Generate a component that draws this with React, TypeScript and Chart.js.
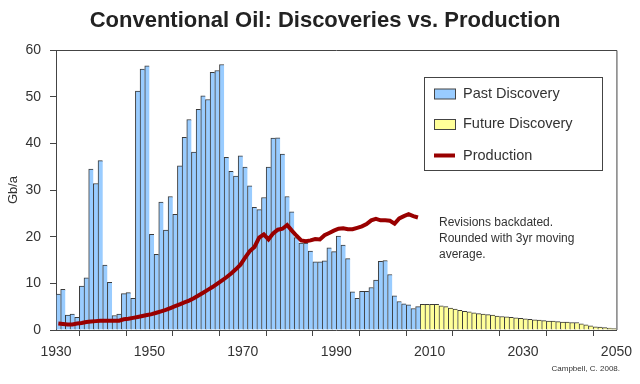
import { useEffect, useRef } from "react";
import { Chart, registerables } from "chart.js";

Chart.register(...registerables);

const TITLE = "Conventional Oil: Discoveries vs. Production";
const Y_TITLE = "Gb/a";
const CREDIT = "Campbell, C. 2008.";
const NOTE_LINES = ["Revisions backdated.", "Rounded with 3yr moving", "average."];
const LEGEND_LABELS = ["Past Discovery", "Future Discovery", "Production"];

const PAST_START = 1930;
const FUTURE_START = 2008;
const X_MIN = 1930;
const X_MAX = 2050;
const Y_MAX = 60;

// Past discovery, Gb/a, 1930..2007
const pastDiscovery = [
  7.7, 8.7, 3.2, 3.4, 2.7, 9.4, 11.2, 34.5, 31.4, 36.3,
  13.9, 10.2, 3.1, 3.4, 7.8, 8.0, 6.8, 51.2, 55.9, 56.6,
  20.5, 16.2, 27.4, 21.4, 28.6, 24.8, 35.2, 41.3, 45.1, 38.1,
  47.3, 50.2, 49.4, 55.2, 55.6, 56.9, 37.0, 34.0, 33.0, 37.3,
  34.9, 30.9, 26.3, 25.8, 28.4, 34.9, 41.1, 41.2, 37.7, 28.6,
  25.3, 19.8, 18.6, 18.6, 16.9, 14.6, 14.6, 14.8, 17.6, 16.8,
  20.1, 18.2, 15.3, 8.2, 6.8, 8.3, 8.3, 9.1, 10.7, 14.7,
  14.9, 11.9, 7.3, 6.1, 5.6, 5.4, 4.6, 5.0,
];

// Future discovery, Gb/a, 2008..2049
const futureDiscovery = [
  5.5, 5.5, 5.5, 5.5, 5.2, 5.0, 4.7, 4.5, 4.2, 4.0,
  3.9, 3.7, 3.5, 3.4, 3.3, 3.2, 3.0, 2.9, 2.8, 2.7,
  2.6, 2.5, 2.4, 2.3, 2.2, 2.1, 2.0, 1.9, 1.9, 1.8,
  1.7, 1.7, 1.6, 1.6, 1.3, 1.1, 0.9, 0.7, 0.6, 0.5,
  0.4, 0.3,
];

// Production, Gb/a, 1930..2007
const production = [
  1.4, 1.3, 1.2, 1.2, 1.4, 1.5, 1.7, 1.8, 1.9, 2.0,
  2.0, 2.0, 2.0, 2.0, 2.3, 2.4, 2.6, 2.8, 3.0, 3.2,
  3.4, 3.7, 4.0, 4.3, 4.7, 5.1, 5.5, 5.9, 6.3, 6.8,
  7.4, 8.0, 8.6, 9.2, 9.9, 10.6, 11.3, 12.1, 13.0, 14.0,
  15.5, 16.9, 17.8, 19.8, 20.5, 19.4, 20.7, 21.5, 21.7, 22.5,
  21.3, 20.2, 19.2, 19.0, 19.2, 19.5, 19.4, 20.3, 20.8, 21.3,
  21.7, 21.8, 21.6, 21.6, 21.9, 22.2, 22.7, 23.5, 23.8, 23.5,
  23.5, 23.4, 22.8, 23.9, 24.4, 24.8, 24.4, 24.1,
];

const BLUE = "#99CCFF";
const YELLOW = "#FFFF99";
const RED = "#990000";
const EDGE = "#3a3a3a";
const AXIS = "#444444";
const TEXT = "#333333";
const FONT = "'Liberation Sans', Arial, sans-serif";

const toPoints = (start: number, values: number[]) =>
  values.map((v, i) => ({ x: start + i + 0.5, y: v }));

const overlay = {
  id: "overlay",
  afterDraw(chart: any) {
    const { ctx, chartArea } = chart;
    const { left, right, top, bottom } = chartArea;
    ctx.save();
    // frame top/right
    ctx.strokeStyle = AXIS;
    ctx.lineWidth = 1;
    ctx.beginPath();
    ctx.moveTo(left, top + 0.5);
    ctx.lineTo(right + 0.5, top + 0.5);
    ctx.lineTo(right + 0.5, bottom);
    ctx.stroke();

    // title
    ctx.fillStyle = "#222";
    ctx.font = `bold 22px ${FONT}`;
    ctx.textAlign = "center";
    ctx.textBaseline = "middle";
    ctx.fillText(TITLE, 325, 21);

    // y title
    ctx.save();
    ctx.translate(13, 190);
    ctx.rotate(-Math.PI / 2);
    ctx.font = `13px ${FONT}`;
    ctx.fillStyle = TEXT;
    ctx.fillText(Y_TITLE, 0, 0);
    ctx.restore();

    // legend
    ctx.fillStyle = "#fff";
    ctx.fillRect(424.5, 77.5, 178, 93);
    ctx.strokeStyle = AXIS;
    ctx.strokeRect(424.5, 77.5, 178, 93);
    const rows = [93.5, 124, 155.5];
    const swatches = [BLUE, YELLOW];
    swatches.forEach((c, i) => {
      ctx.fillStyle = c;
      ctx.fillRect(434.5, rows[i] - 4.5, 21, 10);
      ctx.strokeStyle = AXIS;
      ctx.strokeRect(434.5, rows[i] - 4.5, 21, 10);
    });
    ctx.strokeStyle = RED;
    ctx.lineWidth = 4;
    ctx.beginPath();
    ctx.moveTo(434, rows[2]);
    ctx.lineTo(455, rows[2]);
    ctx.stroke();
    ctx.fillStyle = TEXT;
    ctx.font = `14.5px ${FONT}`;
    ctx.textAlign = "left";
    LEGEND_LABELS.forEach((t, i) => ctx.fillText(t, 463, rows[i]));

    // note
    ctx.font = `12px ${FONT}`;
    NOTE_LINES.forEach((t, i) => ctx.fillText(t, 439, 222.5 + i * 16.3));

    // credit
    ctx.font = `8px ${FONT}`;
    ctx.textAlign = "right";
    ctx.fillText(CREDIT, 620, 369);
    ctx.restore();
  },
};

export default function App() {
  const ref = useRef<HTMLCanvasElement>(null);
  useEffect(() => {
    document.body.style.margin = "0";
    const chart = new Chart(ref.current!, {
      type: "bar",
      data: {
        datasets: [
          {
            type: "line",
            label: LEGEND_LABELS[2],
            data: toPoints(PAST_START, production),
            borderColor: RED,
            borderWidth: 4,
            pointRadius: 0,
            tension: 0,
            order: 0,
          } as any,
          {
            label: LEGEND_LABELS[0],
            data: toPoints(PAST_START, pastDiscovery),
            backgroundColor: BLUE,
            borderColor: EDGE,
            borderWidth: { left: 1, top: 1, right: 0, bottom: 0 },
            borderSkipped: false,
            barPercentage: 1,
            categoryPercentage: 1,
            grouped: false,
            order: 1,
          },
          {
            label: LEGEND_LABELS[1],
            data: toPoints(FUTURE_START, futureDiscovery),
            backgroundColor: YELLOW,
            borderColor: EDGE,
            borderWidth: { left: 1, top: 1, right: 0, bottom: 0 },
            borderSkipped: false,
            barPercentage: 1,
            categoryPercentage: 1,
            grouped: false,
            order: 1,
          },
        ],
      },
      options: {
        animation: false,
        responsive: false,
        layout: { padding: { left: 0, right: 22, top: 50, bottom: 24 } },
        plugins: { legend: { display: false }, tooltip: { enabled: false }, title: { display: false } },
        scales: {
          x: {
            type: "linear",
            min: X_MIN,
            max: X_MAX,
            offset: false,
            afterFit: (s: any) => { s.height = 30; },
            ticks: {
              stepSize: 10,
              autoSkip: false,
              maxRotation: 0,
              padding: 8,
              color: TEXT,
              font: { family: FONT, size: 14 },
              callback: (v: any) => ((Number(v) - X_MIN) % 20 === 0 ? String(v) : ""),
            },
            grid: { drawOnChartArea: false, drawTicks: true, tickLength: 6, color: AXIS },
            border: { color: AXIS },
          },
          y: {
            min: 0,
            max: Y_MAX,
            afterFit: (s: any) => { s.width = 56; },
            ticks: {
              stepSize: 10,
              padding: 9,
              color: TEXT,
              font: { family: FONT, size: 14 },
            },
            grid: { drawOnChartArea: false, drawTicks: true, tickLength: 6, color: AXIS },
            border: { color: AXIS },
          },
        },
      },
      plugins: [overlay],
    });
    return () => chart.destroy();
  }, []);
  return (
    <div style={{ width: 640, height: 384, background: "#fff" }}>
      <canvas ref={ref} width={640} height={384} />
    </div>
  );
}
